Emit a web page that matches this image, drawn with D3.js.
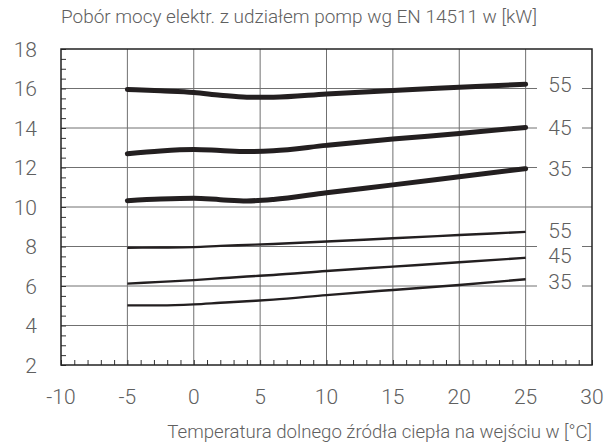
<!DOCTYPE html>
<html lang="pl">
<head>
<meta charset="utf-8">
<script src="https://cdn.jsdelivr.net/npm/d3@7/dist/d3.min.js"></script>
<style>
  body { margin: 0; background: #fff; }
  text { font-family: Roboto, "Open Sans", "Liberation Sans", sans-serif; font-weight: 300; fill: #606060; }
</style>
</head>
<body>
<script>
  // temperatura dolnego źródła [°C]
  var temps = [-5, -2.5, 0, 2, 4, 6, 10, 15, 20, 25];

  // pobór mocy [kW] - grube linie
  var heavy55 = [15.95, 15.88, 15.80, 15.66, 15.56, 15.56, 15.72, 15.90, 16.06, 16.22];
  var heavy45 = [12.70, 12.84, 12.91, 12.86, 12.81, 12.85, 13.12, 13.44, 13.72, 14.03];
  var heavy35 = [10.32, 10.40, 10.44, 10.37, 10.31, 10.38, 10.72, 11.12, 11.53, 11.94];

  // cienkie linie
  var light55 = [7.94, 7.95, 7.97, 8.03, 8.08, 8.13, 8.25, 8.42, 8.58, 8.74];
  var light45 = [6.12, 6.21, 6.30, 6.39, 6.48, 6.56, 6.76, 6.98, 7.20, 7.43];
  var light35 = [5.02, 5.02, 5.07, 5.15, 5.23, 5.31, 5.54, 5.80, 6.05, 6.34];

  var heavyLabels = ["55", "45", "35"];
  var heavyLabelY = [16.2, 14.0, 11.95];
  var lightLabels = ["55", "45", "35"];
  var lightLabelY = [8.78, 7.52, 6.2];

  var xTicks = [-10, -5, 0, 5, 10, 15, 20, 25, 30];
  var yTicks = [2, 4, 6, 8, 10, 12, 14, 16, 18];

  var yTitle = "Pobór mocy elektr. z udziałem pomp wg EN 14511 w [kW]";
  var xTitle = "Temperatura dolnego źródła ciepła na wejściu w [°C]";

  var w = 604, h = 448;
  var pad = { left: 61, right: 12, top: 49, bottom: 83 };

  var x = d3.scaleLinear().domain([-10, 30]).range([pad.left, w - pad.right]);
  var y = d3.scaleLinear().domain([2, 18]).range([h - pad.bottom, pad.top]);

  var svg = d3.select("body").append("svg")
    .attr("width", w)
    .attr("height", h);

  // siatka
  svg.append("g")
    .selectAll("line.vg")
    .data(xTicks.slice(1, -1))
    .enter().append("line")
    .attr("x1", d => x(d)).attr("x2", d => x(d))
    .attr("y1", y(18)).attr("y2", y(2))
    .attr("stroke", "#707070").attr("stroke-width", 1);

  svg.append("g")
    .selectAll("line.hg")
    .data(yTicks.slice(1, -1))
    .enter().append("line")
    .attr("x1", x(-10)).attr("x2", x(30))
    .attr("y1", d => y(d)).attr("y2", d => y(d))
    .attr("stroke", "#707070").attr("stroke-width", 1);

  // drobne kreski na osiach
  var yMinor = d3.range(2, 18.01, 0.5);
  var yAxis = d3.axisRight(y).tickValues(yMinor).tickSize(5).tickFormat("");
  svg.append("g")
    .attr("transform", "translate(" + x(-10) + ",0)")
    .call(yAxis)
    .call(g => g.select(".domain").remove())
    .selectAll("line").attr("stroke", "#333");

  var xMinor = d3.range(-10, 30.01, 1);
  var xAxis = d3.axisTop(x).tickValues(xMinor).tickSize(5).tickFormat("");
  svg.append("g")
    .attr("transform", "translate(0," + y(2) + ")")
    .call(xAxis)
    .call(g => g.select(".domain").remove())
    .selectAll("line").attr("stroke", "#333");

  // ramka
  svg.append("rect")
    .attr("x", x(-10)).attr("y", y(18))
    .attr("width", x(30) - x(-10)).attr("height", y(2) - y(18))
    .attr("fill", "none").attr("stroke", "#222").attr("stroke-width", 1.5);

  // etykiety osi
  svg.append("g").selectAll("text")
    .data(yTicks).enter().append("text")
    .attr("x", 37).attr("y", d => y(d) + 7.5)
    .attr("text-anchor", "end")
    .style("font-size", "21px")
    .text(d => d);

  svg.append("g").selectAll("text")
    .data(xTicks).enter().append("text")
    .attr("x", d => x(d)).attr("y", 404)
    .attr("text-anchor", "middle")
    .style("font-size", "21px")
    .text(d => d);

  // krzywe
  var line = d3.line()
    .x((d, i) => x(temps[i]))
    .y(d => y(d))
    .curve(d3.curveMonotoneX);

  [heavy55, heavy45, heavy35].forEach(function(s) {
    svg.append("path").attr("d", line(s))
      .attr("fill", "none").attr("stroke", "#231f20")
      .attr("stroke-width", 5).attr("stroke-linecap", "round");
  });
  [light55, light45, light35].forEach(function(s) {
    svg.append("path").attr("d", line(s))
      .attr("fill", "none").attr("stroke", "#231f20")
      .attr("stroke-width", 2.4).attr("stroke-linecap", "butt");
  });

  // etykiety krzywych (z białym tłem na siatce)
  function curveLabels(labels, vals) {
    var g = svg.append("g");
    labels.forEach(function(t, i) {
      g.append("rect")
        .attr("x", 537).attr("y", y(vals[i]) - 11)
        .attr("width", 45).attr("height", 22)
        .attr("fill", "#fff");
    });
    labels.forEach(function(t, i) {
      g.append("text")
        .attr("x", 560).attr("y", y(vals[i]) + 7.3)
        .attr("text-anchor", "middle")
        .style("font-size", "21px")
        .text(t);
    });
  }
  curveLabels(heavyLabels, heavyLabelY);
  curveLabels(lightLabels, lightLabelY);

  // tytuły dopasowane do szerokości
  function fitText(str, xPos, yPos, anchor, width) {
    var t = svg.append("text")
      .attr("x", xPos).attr("y", yPos)
      .attr("text-anchor", anchor)
      .style("font-size", "16px")
      .text(str);
    var len = t.node().getComputedTextLength();
    t.style("font-size", (16 * width / len) + "px");
  }
  fitText(yTitle, 61, 23, "start", 476);
  fitText(xTitle, 592, 438, "end", 425);
</script>
</body>
</html>
